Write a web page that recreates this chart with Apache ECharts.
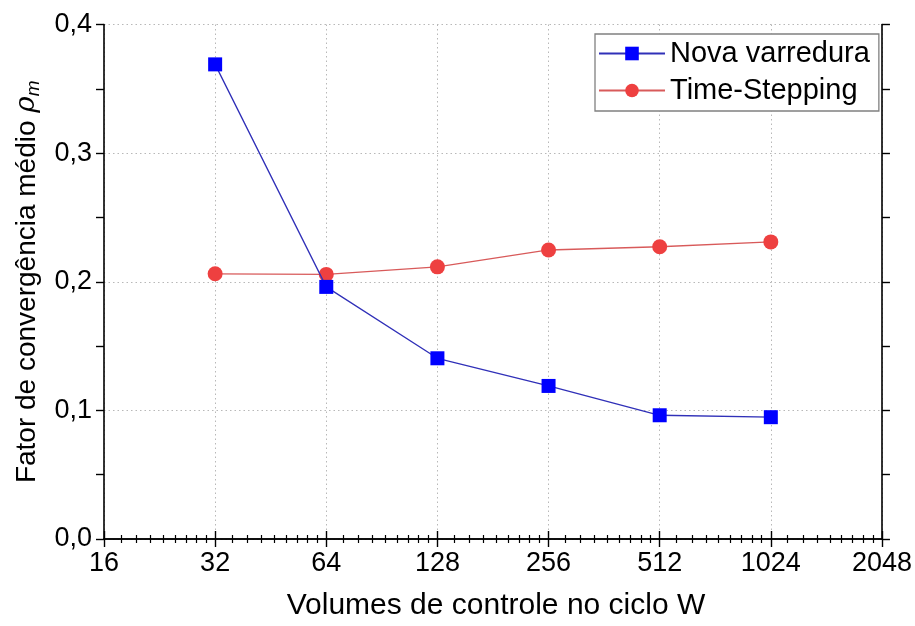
<!DOCTYPE html>
<html>
<head>
<meta charset="utf-8">
<script src="https://cdn.jsdelivr.net/npm/echarts@6/dist/echarts.min.js"></script>
<style>
html,body{margin:0;padding:0;background:#fff;}
#chart{width:915px;height:626px;}
</style>
</head>
<body>
<div id="chart"></div>
<script>
var volumes = [32, 64, 128, 256, 512, 1024];
var novaVarredura = [0.369, 0.196, 0.1405, 0.119, 0.0962, 0.0947];
var timeStepping = [0.2062, 0.2057, 0.2116, 0.2247, 0.2272, 0.2310];
var seriesNames = ['Nova varredura', 'Time-Stepping'];
var xTitle = 'Volumes de controle no ciclo W';

function pairs(xs, ys) { return xs.map(function (x, i) { return [x, ys[i]]; }); }

var FONT = '"Liberation Sans", Arial, sans-serif';
var NARROW = '"Liberation Sans Narrow", "Arial Narrow", "Liberation Sans", sans-serif';
var axisLine = { show: true, lineStyle: { color: '#000', width: 1.6 } };
var splitLine = { show: true, lineStyle: { color: '#b8b8b8', width: 1, type: [1.5, 3] } };

var xBase = {
  type: 'log', logBase: 2, min: 16, max: 2048, splitNumber: 7,
  axisLine: axisLine,
  axisTick: { show: true, inside: false, length: 8, lineStyle: { color: '#000', width: 1.4 } },
  minorTick: { show: true, splitNumber: 9, length: 4, lineStyle: { color: '#000', width: 1.2 } },
};
var yBase = {
  type: 'value', min: 0, max: 0.4, interval: 0.1,
  axisLine: axisLine,
  axisTick: { show: true, inside: false, length: 8, lineStyle: { color: '#000', width: 1.4 } },
  minorTick: { show: true, splitNumber: 2, length: 8, lineStyle: { color: '#000', width: 1.4 } },
};

var chart = echarts.init(document.getElementById('chart'), null, { renderer: 'canvas' });
chart.setOption({
  backgroundColor: '#fff',
  animation: false,
  grid: { left: 104, right: 26, top: 24.5, bottom: 75.5, containLabel: false },
  legend: {
    orient: 'vertical', left: 595, top: 34,
    itemWidth: 66, itemHeight: 17, itemGap: 8,
    padding: [5, 9, 6, 3],
    borderColor: '#808080', borderWidth: 1.3, backgroundColor: '#fff',
    textStyle: { fontFamily: FONT, fontSize: 29, color: '#000' },
    data: seriesNames
  },
  xAxis: [
    Object.assign({}, xBase, {
      position: 'bottom',
      name: xTitle, nameLocation: 'middle', nameGap: 52,
      nameTextStyle: { fontFamily: FONT, fontSize: 30, color: '#000', padding: [0, 0, 0, 6] },
      axisLabel: { show: true, margin: 11, fontFamily: NARROW, fontSize: 27, color: '#000',
        formatter: function (v) { return String(Math.round(v)); } },
      splitLine: splitLine
    }),
    Object.assign({}, xBase, {
      position: 'top', axisLabel: { show: false }, splitLine: { show: false }
    })
  ],
  yAxis: [
    Object.assign({}, yBase, {
      position: 'left',
      name: '{t|Fator de convergência médio }{r|ρ}{s|m}',
      nameLocation: 'middle', nameGap: 59, nameRotate: 90,
      nameTextStyle: {
        fontFamily: FONT, fontSize: 28, color: '#000',
        rich: {
          t: { fontFamily: FONT, fontSize: 28, color: '#000' },
          r: { fontFamily: '"DejaVu Serif", serif', fontStyle: 'italic', fontSize: 28, color: '#000' },
          s: { fontFamily: FONT, fontStyle: 'italic', fontSize: 19, color: '#000', padding: [14, 0, 0, 0] }
        }
      },
      axisLabel: { show: true, margin: 12, fontFamily: FONT, fontSize: 27, color: '#000',
        formatter: function (v) { return v.toFixed(1).replace('.', ','); } },
      splitLine: splitLine
    }),
    Object.assign({}, yBase, {
      position: 'right', axisLabel: { show: false }, splitLine: { show: false }
    })
  ],
  series: [
    {
      name: seriesNames[0], type: 'line', xAxisIndex: 0, yAxisIndex: 0,
      data: pairs(volumes, novaVarredura),
      symbol: 'rect', symbolSize: 14,
      itemStyle: { color: '#0000ff' },
      lineStyle: { color: '#3030b8', width: 1.3 },
      z: 3
    },
    {
      name: seriesNames[1], type: 'line', xAxisIndex: 0, yAxisIndex: 0,
      data: pairs(volumes, timeStepping),
      symbol: 'circle', symbolSize: 15,
      itemStyle: { color: '#ee4040' },
      lineStyle: { color: '#d85a5a', width: 1.3 },
      z: 2
    }
  ]
});
</script>
</body>
</html>
